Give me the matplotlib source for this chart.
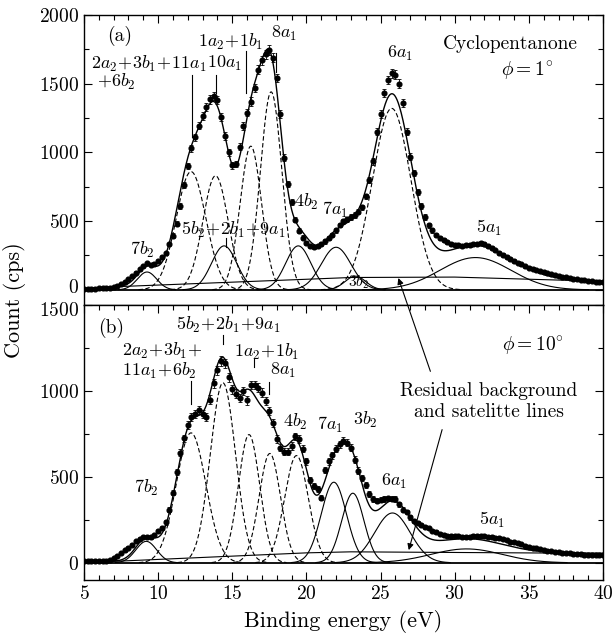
import numpy as np
import matplotlib
matplotlib.use("Agg")
from matplotlib import pyplot as plt
from matplotlib.ticker import MultipleLocator
from matplotlib.transforms import ScaledTranslation

plt.rcParams['font.family'] = 'cmr10'
plt.rcParams['mathtext.fontset'] = 'cm'
plt.rcParams['axes.formatter.use_mathtext'] = True
plt.rcParams['axes.unicode_minus'] = False
plt.rcParams['font.size'] = 13

# measured counts, 0.25 eV steps from 5 to 40 eV (one row per eV)
counts_a = [8, 8, 9, 9,
            10, 11, 12, 15,
            20, 28, 40, 58,
            80, 102, 125, 150,
            172, 193, 183, 190,
            212, 238, 266, 330,
            395, 480, 610, 760,
            900, 1030, 1110, 1195,
            1265, 1330, 1385, 1410,
            1380, 1260, 1120, 1000,
            905, 915, 1040, 1190,
            1290, 1370, 1470, 1600,
            1670, 1715, 1745, 1690,
            1540, 1280, 960, 770,
            640, 510, 430, 380,
            340, 322, 314, 318,
            332, 352, 375, 400,
            432, 472, 500, 515,
            530, 545, 568, 600,
            680, 800, 935, 1150,
            1280, 1430, 1525, 1575,
            1565, 1500, 1360, 1150,
            970, 850, 710, 610,
            530, 470, 432, 400,
            375, 360, 345, 335,
            328, 325, 322, 325,
            328, 330, 335, 338,
            332, 318, 305, 287,
            270, 255, 240, 225,
            210, 196, 185, 172,
            162, 153, 145, 135,
            127, 120, 113, 106,
            100, 95, 91, 86,
            82, 78, 74, 71,
            66, 62, 58, 56,
            54]

counts_b = [8, 8, 9, 9,
            10, 10, 12, 18,
            28, 40, 55, 72,
            88, 105, 125, 140,
            148, 152, 148, 160,
            185, 205, 235, 310,
            409, 530, 640, 725,
            800, 850, 866, 890,
            866, 850, 950, 1045,
            1120, 1175, 1160, 1080,
            1010, 985, 960, 1000,
            945, 1035, 1035, 1020,
            990, 940, 885, 815,
            720, 670, 645, 645,
            680, 735, 720, 665,
            590, 480, 445, 430,
            380, 540, 590, 625,
            663, 690, 710, 700,
            670, 600, 537, 495,
            455, 400, 372, 362,
            368, 372, 375, 374,
            372, 340, 310, 295,
            265, 245, 232, 222,
            210, 200, 188, 178,
            170, 163, 158, 157,
            158, 155, 152, 150,
            152, 155, 158, 157,
            155, 153, 150, 147,
            145, 138, 130, 123,
            120, 115, 108, 100,
            95, 89, 84, 79,
            75, 71, 68, 65,
            62, 60, 58, 56,
            54, 52, 50, 48,
            47, 46, 45, 44,
            43]

energy = 5 + 0.25 * np.arange(len(counts_a))

# fitted gaussian components: centre (eV), height (cps), sigma (eV)
peaks_a = [9.25, 12.22, 13.87, 14.45, 16.25, 17.62, 19.45, 22.0, 23.3, 25.75, 31.4]
heights_a = [130, 860, 830, 320, 1045, 1440, 320, 310, 100, 1320, 235]
widths_a = [0.65, 1.0, 0.85, 0.85, 0.72, 0.72, 0.85, 1.0, 0.7, 1.3, 2.4]
dashed_a = [False, True, True, False, True, True, False, False, False, True, False]

peaks_b = [9.2, 12.22, 14.37, 16.13, 17.53, 19.33, 21.85, 23.13, 25.8, 30.8]
heights_b = [125, 756, 1047, 746, 636, 624, 469, 405, 290, 81]
widths_b = [0.7, 1.0, 0.85, 0.72, 0.72, 0.8, 0.85, 0.75, 1.2, 2.4]
dashed_b = [False, True, True, True, True, True, False, False, False, False]

# residual background + satellite line
bg_e_a = [5, 7.4, 20.2, 23, 30, 40]
bg_c_a = [10, 24, 78, 90, 93, 62]
bg_e_b = [5, 7.4, 20, 23, 40]
bg_c_b = [5, 10, 58, 64, 55]

yticks_a = [0, 500, 1000, 1500, 2000]
yticks_b = [0, 500, 1000, 1500]


def draw_panel(ax, counts, peaks, heights, widths, dashed, bg_e, bg_c, yticks):
    c = np.array(counts, dtype=float)
    err = 0.8 * np.sqrt(c)
    ax.errorbar(energy, c, yerr=err, fmt='o', ms=3.4, color='k',
                elinewidth=0.6, capsize=1.4, capthick=0.6, zorder=4)
    xf = np.linspace(5, 40, 1400)
    bg = np.interp(xf, bg_e, bg_c)
    total = bg.copy()
    for p, h, w, d in zip(peaks, heights, widths, dashed):
        g = h * np.exp(-0.5 * ((xf - p) / w) ** 2)
        total += g
        m = g > 1.5
        ax.plot(xf[m], g[m], color='k', lw=0.8,
                ls=(0, (4, 2.2)) if d else '-', zorder=2)
    ax.plot(bg_e, bg_c, color='k', lw=0.8, zorder=2)
    ax.plot(xf, total, color='k', lw=1.0, zorder=3)
    ax.axhline(0, color='k', lw=1.3, zorder=1)
    ax.set_xlim(5, 40)
    ax.xaxis.set_major_locator(MultipleLocator(5))
    ax.xaxis.set_minor_locator(MultipleLocator(1))
    ax.set_yticks(yticks)
    ax.yaxis.set_minor_locator(MultipleLocator(250))
    ax.tick_params(which='both', direction='in', top=True, right=True,
                   labelsize=14)
    ax.tick_params(which='major', length=6, width=0.8)
    ax.tick_params(which='minor', length=3.5, width=0.8)
    for s in ax.spines.values():
        s.set_linewidth(1.0)


fig = plt.figure(figsize=(6.13, 6.39), dpi=100)
ax1 = fig.add_axes([0.137, 0.5227, 0.8467, 0.454])
ax2 = fig.add_axes([0.137, 0.0923, 0.8467, 0.4304])

draw_panel(ax1, counts_a, peaks_a, heights_a, widths_a, dashed_a, bg_e_a, bg_c_a, yticks_a)
draw_panel(ax2, counts_b, peaks_b, heights_b, widths_b, dashed_b, bg_e_b, bg_c_b, yticks_b)

ax1.set_ylim(-110, 2000)
ax1.tick_params(which='both', bottom=False, labelbottom=False)
ax2.set_ylim(-100, 1500)
ax2.set_xlabel('Binding energy (eV)', labelpad=5, fontsize=16)
fig.text(0.024, 0.53, 'Count (cps)', rotation=90, ha='center', va='center',
         fontsize=16)

# nudge the "0" (top) and "1500" (bottom) labels apart at the panel joint
lab0 = ax1.yaxis.get_major_ticks()[0].label1
lab0.set_transform(lab0.get_transform() + ScaledTranslation(0, 3 / 72, fig.dpi_scale_trans))
lab15 = ax2.yaxis.get_major_ticks()[-1].label1
lab15.set_transform(lab15.get_transform() + ScaledTranslation(0, -3 / 72, fig.dpi_scale_trans))

# panel (a) labels
ax1.text(7.4, 1850, '(a)', ha='center', va='center', fontsize=14)
ax1.text(38.3, 1790, 'Cyclopentanone', ha='right', va='center', fontsize=14)
ax1.text(34.9, 1590, r'$\phi = 1^{\circ}$', ha='center', va='center', fontsize=14)
ax1.text(5.45, 1645, r'$2a_2\!+\!3b_1\!+\!11a_1$', ha='left', va='center')
ax1.text(5.9, 1512, r'$+6b_2$', ha='left', va='center')
ax1.plot([12.3, 12.3], [1115, 1565], color='k', lw=0.8)
ax1.text(14.45, 1645, r'$10a_1$', ha='center', va='center')
ax1.plot([13.9, 13.9], [1430, 1560], color='k', lw=0.8)
ax1.text(14.9, 1800, r'$1a_2\!+\!1b_1$', ha='center', va='center')
ax1.plot([15.95, 15.95], [1430, 1740], color='k', lw=0.8)
ax1.text(18.5, 1865, r'$8a_1$', ha='center', va='center')
ax1.plot([17.98, 17.98], [1585, 1720], color='k', lw=0.8)
ax1.text(8.95, 290, r'$7b_2$', ha='center', va='center')
ax1.text(15.05, 435, r'$5b_2\!+\!2b_1\!+\!9a_1$', ha='center', va='center')
ax1.plot([14.55, 14.55], [315, 375], color='k', lw=0.8)
ax1.text(20.0, 640, r'$4b_2$', ha='center', va='center')
ax1.text(21.95, 582, r'$7a_1$', ha='center', va='center')
ax1.text(23.5, 56, r'$3b_2$', ha='center', va='center', fontsize=11)
ax1.text(26.3, 1717, r'$6a_1$', ha='center', va='center')
ax1.text(32.3, 447, r'$5a_1$', ha='center', va='center')

# panel (b) labels
ax2.text(6.8, 1366, '(b)', ha='center', va='center', fontsize=14)
ax2.text(35.25, 1260, r'$\phi = 10^{\circ}$', ha='center', va='center', fontsize=14)
ax2.text(14.7, 1385, r'$5b_2\!+\!2b_1\!+\!9a_1$', ha='center', va='center')
ax2.plot([14.4, 14.4], [1275, 1323], color='k', lw=0.8)
ax2.text(10.3, 1230, r'$2a_2\!+\!3b_1\!+$', ha='center', va='center')
ax2.text(10.1, 1117, r'$11a_1\!+\!6b_2$', ha='center', va='center')
ax2.plot([12.2, 12.2], [925, 1060], color='k', lw=0.8)
ax2.text(17.3, 1226, r'$1a_2\!+\!1b_1$', ha='center', va='center')
ax2.plot([16.45, 16.45], [1138, 1187], color='k', lw=0.8)
ax2.text(18.4, 1119, r'$8a_1$', ha='center', va='center')
ax2.plot([17.5, 17.5], [983, 1051], color='k', lw=0.8)
ax2.text(19.25, 820, r'$4b_2$', ha='center', va='center')
ax2.text(21.6, 804, r'$7a_1$', ha='center', va='center')
ax2.text(23.95, 833, r'$3b_2$', ha='center', va='center')
ax2.text(25.9, 475, r'$6a_1$', ha='center', va='center')
ax2.text(32.5, 252, r'$5a_1$', ha='center', va='center')
ax2.text(9.17, 438, r'$7b_2$', ha='center', va='center')

ax2.text(32.3, 940, 'Residual background\nand satelitte lines', fontsize=14,
         ha='center', va='center', multialignment='center', linespacing=1.2)
arrow = dict(arrowstyle='-|>', lw=0.8, color='k', mutation_scale=9,
             shrinkA=0, shrinkB=0)
ax2.annotate('', xy=(26.2, 86), xycoords=ax1.transData,
             xytext=(28.36, 1114), textcoords='data',
             arrowprops=arrow, annotation_clip=False)
ax2.annotate('', xy=(26.9, 74), xytext=(29.15, 775),
             arrowprops=arrow, annotation_clip=False)

fig.savefig('out.png', dpi=100)
